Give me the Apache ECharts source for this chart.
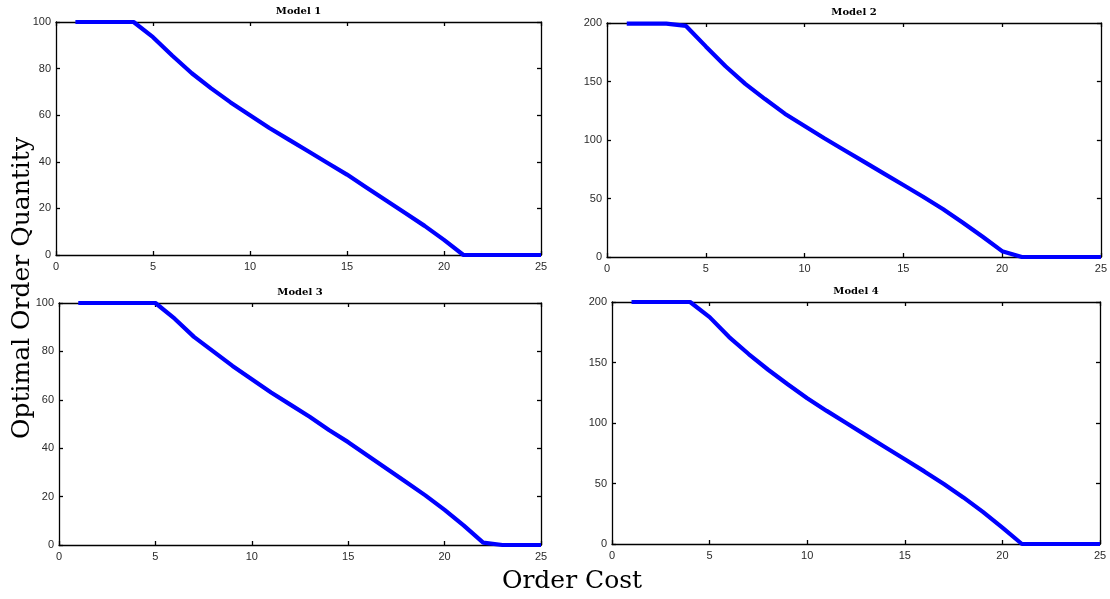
<!DOCTYPE html>
<html>
<head>
<meta charset="utf-8">
<script src="https://cdn.jsdelivr.net/npm/echarts@6/dist/echarts.min.js"></script>
<style>
  html, body { margin: 0; padding: 0; background: #fff; }
  #main { width: 1110px; height: 599px; }
</style>
</head>
<body>
<div id="main"></div>
<script>
// order cost (x axis)
var cost = [1, 2, 3, 4, 5, 6, 7, 8, 9, 10, 11, 12, 13, 14, 15, 16, 17, 18, 19, 20, 21, 22, 23, 24, 25];
// optimal order quantity per model
var model1 = [100, 100, 100, 100, 93.5, 85.5, 78, 71.5, 65.5, 60, 54.5, 49.5, 44.5, 39.5, 34.5, 29, 23.5, 18, 12.5, 6.5, 0, 0, 0, 0, 0];
var model2 = [199.5, 199.5, 199.5, 197.5, 180, 163, 148, 135, 122.5, 112, 101.5, 91.5, 81.5, 71.5, 61.5, 51.5, 41, 29.5, 17.5, 5, 0, 0, 0, 0, 0];
var model3 = [100, 100, 100, 100, 100, 93.5, 86, 80, 74, 68.5, 63, 58, 53, 47.5, 42.5, 37, 31.5, 26, 20.5, 14.5, 8, 1, 0, 0, 0];
var model4 = [200, 200, 200, 200, 187.5, 171, 157, 144, 132, 120.5, 110, 100, 90, 80, 70, 60, 49.5, 38.5, 26.5, 13.5, 0, 0, 0, 0, 0];
var titles = ['Model 1', 'Model 2', 'Model 3', 'Model 4'];
var yMax = [100, 200, 100, 200];
var yStep = [20, 50, 20, 50];

var models = [model1, model2, model3, model4];

// subplot boxes (pixels)
var boxes = [
  { left: 56, top: 22, width: 485, height: 233 },
  { left: 607, top: 23, width: 494, height: 234 },
  { left: 59, top: 303, width: 482, height: 242 },
  { left: 612, top: 302, width: 488, height: 242 }
];

var tickFont = { fontFamily: 'Liberation Sans', fontSize: 11, color: '#2b2b2b' };
var lineStyle = { color: '#000', width: 1.3 };

var grid = [], xAxis = [], yAxis = [], series = [], title = [];

for (var i = 0; i < 4; i++) {
  grid.push(boxes[i]);
  title.push({
    text: titles[i],
    left: boxes[i].left + boxes[i].width / 2,
    top: boxes[i].top - 16,
    padding: 0,
    textAlign: 'center',
    textStyle: { fontFamily: 'DejaVu Serif', fontWeight: 'bold', fontSize: 10, color: '#000' }
  });
  // bottom + top x axes
  xAxis.push({
    type: 'value', gridIndex: i, min: 0, max: 25, interval: 5, position: 'bottom',
    axisLine: { show: true, onZero: false, lineStyle: lineStyle },
    axisTick: { show: true, inside: true, length: 4, lineStyle: lineStyle },
    axisLabel: Object.assign({ margin: 6 }, tickFont),
    splitLine: { show: false }
  });
  xAxis.push({
    type: 'value', gridIndex: i, min: 0, max: 25, interval: 5, position: 'top',
    axisLine: { show: true, onZero: false, lineStyle: lineStyle },
    axisTick: { show: true, inside: true, length: 4, lineStyle: lineStyle },
    axisLabel: { show: false },
    splitLine: { show: false }
  });
  // left + right y axes
  yAxis.push({
    type: 'value', gridIndex: i, min: 0, max: yMax[i], interval: yStep[i], position: 'left',
    axisLine: { show: true, onZero: false, lineStyle: lineStyle },
    axisTick: { show: true, inside: true, length: 4, lineStyle: lineStyle },
    axisLabel: Object.assign({ margin: 5 }, tickFont),
    splitLine: { show: false }
  });
  yAxis.push({
    type: 'value', gridIndex: i, min: 0, max: yMax[i], interval: yStep[i], position: 'right',
    axisLine: { show: true, onZero: false, lineStyle: lineStyle },
    axisTick: { show: true, inside: true, length: 4, lineStyle: lineStyle },
    axisLabel: { show: false },
    splitLine: { show: false }
  });
  series.push({
    type: 'line',
    xAxisIndex: i * 2,
    yAxisIndex: i * 2,
    data: cost.map(function (c, k) { return [c, models[i][k]]; }),
    showSymbol: false,
    symbol: 'none',
    clip: false,
    lineStyle: { color: '#0000ff', width: 4.2 },
    z: 1
  });
}

var chart = echarts.init(document.getElementById('main'));
chart.setOption({
  animation: false,
  backgroundColor: '#fff',
  title: title,
  grid: grid,
  xAxis: xAxis,
  yAxis: yAxis,
  series: series,
  graphic: [
    {
      type: 'text',
      x: 22, y: 288,
      rotation: Math.PI / 2,
      style: {
        text: 'Optimal Order Quantity',
        fontFamily: 'DejaVu Serif', fontSize: 25, fill: '#000',
        align: 'center', verticalAlign: 'middle'
      }
    },
    {
      type: 'text',
      x: 572, y: 581,
      style: {
        text: 'Order Cost',
        fontFamily: 'DejaVu Serif', fontSize: 25, fill: '#000',
        align: 'center', verticalAlign: 'middle'
      }
    }
  ]
});
</script>
</body>
</html>
